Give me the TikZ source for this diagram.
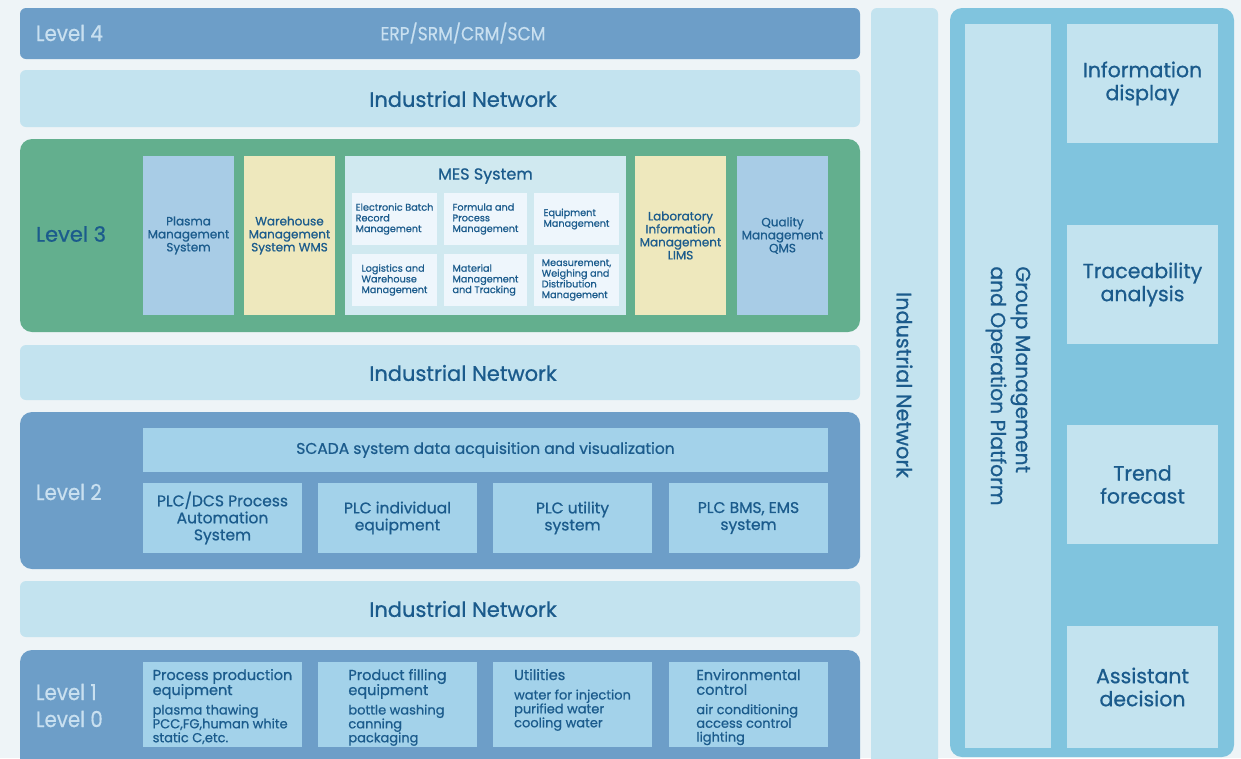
\documentclass[tikz,border=0pt]{standalone}
\usepackage{fontspec}
\setmainfont{Poppins}[FakeBold=0.8]
\newfontfamily\condfont[FakeStretch=0.9,FakeBold=0.5]{Poppins}
\usetikzlibrary{calc}
\definecolor{bgc}{HTML}{EEF4F7}
\definecolor{lvlblue}{HTML}{6D9EC8}
\definecolor{netc}{HTML}{C3E3EF}
\definecolor{greenc}{HTML}{63AF8E}
\definecolor{colblue}{HTML}{A8CCE6}
\definecolor{colyel}{HTML}{EEE8BD}
\definecolor{mesc}{HTML}{D0E9F0}
\definecolor{mesub}{HTML}{EEF6FC}
\definecolor{plcc}{HTML}{A3D2EA}
\definecolor{grpc}{HTML}{80C4DE}
\definecolor{darktxt}{HTML}{1B5B8C}
\definecolor{lighttxt}{HTML}{C9E0F0}
\newcommand\bx[7]{\node[#6, minimum width={#4-#2}, minimum height={#5-#3}] (#1) at ({(#2+#4)/2},{(#3+#5)/2}) {#7};}
\newcommand\fhd{\fontsize{14.5}{13.3}\selectfont}
\newcommand\fsb{\fontsize{13}{13.3}\selectfont}
\newcommand\fieldtext[2]{\fsb\begin{tabular}{@{}l@{}}#1\\[5.5pt]#2\end{tabular}}
\begin{document}
\begin{tikzpicture}[x=1pt,y=-1pt,
  every node/.style={inner sep=0pt, outer sep=0pt, text=darktxt},
  band/.style={fill=lvlblue, rounded corners=6pt},
  netband/.style={fill=netc, rounded corners=6pt},
  nettext/.style={font=\fontsize{21}{24}\selectfont},
  greenband/.style={fill=greenc, rounded corners=12pt},
  colb/.style={fill=colblue, align=center, font=\fontsize{12}{13}\selectfont},
  coly/.style={fill=colyel, align=center, font=\fontsize{12}{13}\selectfont},
  mesbox/.style={fill=mesc},
  subbox/.style={fill=mesub, align=left, font=\fontsize{9.7}{10.7}\selectfont},
  plcbox/.style={fill=plcc, align=center, font=\fontsize{15.5}{17}\selectfont},
  fieldbox/.style={fill=plcc},
  ftext/.style={anchor=north},
  lvllight/.style={anchor=west, text=lighttxt, font=\condfont\fontsize{22}{26}\selectfont},
  grpbox/.style={fill=netc, align=center, font=\fontsize{20.5}{23}\selectfont}
]
\clip (0,0) rectangle (1241,758);
\fill[bgc] (0,0) rectangle (1241,758);

% Level 4
\bx{l4}{20}{8}{860}{59}{band}{}
\node[lvllight] (l4t) at (36,33) {Level 4};
\node[text=lighttxt, font=\condfont\fontsize{19}{22}\selectfont] (erp) at (463,33) {ERP/SRM/CRM/SCM};

% Industrial network 1
\bx{n1}{20}{70}{860}{127}{netband}{}
\node[nettext] (n1t) at (463,99) {Industrial Network};

% Level 3
\bx{l3}{20}{139}{860}{332}{greenband}{}
\node[anchor=west, font=\fontsize{21}{24}\selectfont] (l3t) at (36,234) {Level 3};
\bx{pms}{143}{156}{234}{315}{colb}{Plasma\\Management\\System}
\bx{wms}{244}{156}{335}{315}{coly}{Warehouse\\Management\\System WMS}
\bx{mes}{345}{156}{626}{315}{mesbox}{}
\node[font=\fontsize{16}{18}\selectfont] (mest) at (485.5,176) {MES System};
\bx{m1}{352}{193}{437}{245}{subbox}{Electronic Batch\\Record\\Management}
\bx{m2}{444}{193}{527}{245}{subbox}{Formula and\\Process\\Management}
\bx{m3}{534}{193}{619}{245}{subbox}{Equipment\\Management}
\bx{m4}{352}{254}{437}{306}{subbox}{Logistics and\\Warehouse\\Management}
\bx{m5}{444}{254}{527}{306}{subbox}{Material\\Management\\and Tracking}
\bx{m6}{534}{254}{619}{306}{subbox}{Measurement,\\Weighing and\\Distribution\\Management}
\bx{lims}{635}{156}{726}{315}{coly}{Laboratory\\Information\\Management\\LIMS}
\bx{qms}{737}{156}{828}{315}{colb}{Quality\\Management\\QMS}

% Industrial network 2
\bx{n2}{20}{345}{860}{400}{netband}{}
\node[nettext] (n2t) at (463,373) {Industrial Network};

% Level 2
\bx{l2}{20}{412}{860}{569}{band, rounded corners=12pt}{}
\node[lvllight] (l2t) at (36,492) {Level 2};
\bx{scada}{143}{428}{828}{472}{plcbox}{SCADA system data acquisition and visualization}
\bx{p1}{143}{484}{302}{554}{plcbox, yshift=1pt}{PLC/DCS Process\\Automation\\System}
\bx{p2}{318}{484}{477}{554}{plcbox, yshift=1pt}{PLC individual\\equipment}
\bx{p3}{493}{484}{652}{554}{plcbox, yshift=1pt}{PLC utility\\system}
\bx{p4}{669}{484}{828}{554}{plcbox, yshift=1pt}{PLC BMS, EMS\\system}

% Industrial network 3
\bx{n3}{20}{581}{860}{637}{netband}{}
\node[nettext] (n3t) at (463,609) {Industrial Network};

% Level 1/0
\bx{l1}{20}{650}{860}{775}{band, rounded corners=12pt}{}
\node[lvllight] (l1t) at (36,692) {Level 1};
\node[lvllight] (l0t) at (36,719) {Level 0};
\bx{f1}{143}{662}{302}{747}{fieldbox}{}
\bx{f2}{318}{662}{477}{747}{fieldbox}{}
\bx{f3}{493}{662}{652}{747}{fieldbox}{}
\bx{f4}{669}{662}{828}{747}{fieldbox}{}
\node[ftext] (t1) at ($(f1.north)+(0,7)$) {\fieldtext{\fhd Process production\\\fhd equipment}{plasma thawing\\PCC,FG,human white\\static C,etc.}};
\node[ftext] (t2) at ($(f2.north)+(0,7)$) {\fieldtext{\fhd Product filling\\\fhd equipment}{bottle washing\\canning\\packaging}};
\node[ftext] (t3) at ($(f3.north)+(0,7)$) {\fieldtext{\fhd Utilities}{water for injection\\purified water\\cooling water}};
\node[ftext] (t4) at ($(f4.north)+(0,7)$) {\fieldtext{\fhd Environmental\\\fhd control}{air conditioning\\access control\\lighting}};

% vertical industrial network
\bx{nv}{871}{8}{938}{770}{netband}{}
\node[rotate=-90, font=\fontsize{20.8}{24}\selectfont] (nvt) at (nv.center |- 0,385) {Industrial Network};

% group platform
\bx{grp}{950}{8}{1234}{757}{fill=grpc, rounded corners=12pt}{}
\bx{gcol}{965}{24}{1051}{748}{fill=netc}{}
\node[rotate=-90, align=left, font=\fontsize{20.3}{25}\selectfont] (gct) at (1008,386) {Group Management\\and Operation Platform};
\bx{g1}{1067}{24}{1218}{143}{grpbox}{Information\\display}
\bx{g2}{1067}{225}{1218}{344}{grpbox}{Traceability\\analysis}
\bx{g3}{1067}{425}{1218}{544}{grpbox}{Trend\\forecast}
\bx{g4}{1067}{626}{1218}{748}{grpbox}{Assistant\\decision}
\end{tikzpicture}
\end{document}
